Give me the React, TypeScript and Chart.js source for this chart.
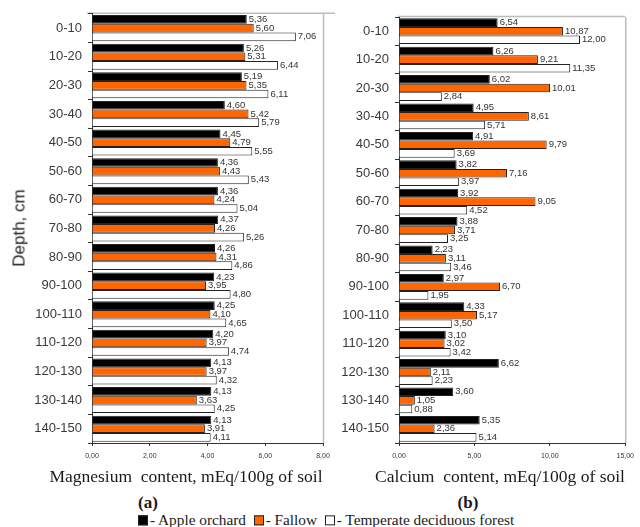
import React, { useEffect, useRef } from 'react';
import { Chart, registerables } from 'chart.js';

Chart.register(...registerables);

// Soil depth layers, cm
const depthLabels = [
  '0-10', '10-20', '20-30', '30-40', '40-50', '50-60', '60-70', '70-80',
  '80-90', '90-100', '100-110', '110-120', '120-130', '130-140', '140-150',
];

const seriesNames = ['Apple orchard', 'Fallow', 'Temperate deciduous forest'];

// Exchangeable magnesium, mEq/100g of soil
const mgApple = [5.36, 5.26, 5.19, 4.60, 4.45, 4.36, 4.36, 4.37, 4.26, 4.23, 4.25, 4.20, 4.13, 4.13, 4.13];
const mgFallow = [5.60, 5.31, 5.35, 5.42, 4.79, 4.43, 4.24, 4.26, 4.31, 3.95, 4.10, 3.97, 3.97, 3.63, 3.91];
const mgForest = [7.06, 6.44, 6.11, 5.79, 5.55, 5.43, 5.04, 5.26, 4.86, 4.80, 4.65, 4.74, 4.32, 4.25, 4.11];

// Exchangeable calcium, mEq/100g of soil
const caApple = [6.54, 6.26, 6.02, 4.95, 4.91, 3.82, 3.92, 3.88, 2.23, 2.97, 4.33, 3.10, 6.62, 3.60, 5.35];
const caFallow = [10.87, 9.21, 10.01, 8.61, 9.79, 7.16, 9.05, 3.71, 3.11, 6.70, 5.17, 3.02, 2.11, 1.05, 2.36];
const caForest = [12.00, 11.35, 2.84, 5.71, 3.69, 3.97, 4.52, 3.25, 3.46, 1.95, 3.50, 3.42, 2.23, 0.88, 5.14];

const mgAxisMax = 8;
const mgAxisStep = 2;
const caAxisMax = 15;
const caAxisStep = 5;

const fillColors = ['#000000', '#ff6600', '#ffffff'];
const edgeColor = '#222222';
const sans = '"Liberation Sans", Arial, sans-serif';
const serif = '"Liberation Serif", "DejaVu Serif", serif';

const fmt = (v: number) => v.toFixed(2).replace('.', ',');

// Light frame along the top and right edges of the plot area
const framePlugin = {
  id: 'plotFrame',
  beforeDraw(chart: any, _args: any, opts: any) {
    const { ctx, chartArea } = chart;
    const { left, right, top, bottom } = chartArea;
    ctx.save();
    ctx.strokeStyle = '#bdbdbd';
    ctx.lineWidth = 1.5;
    ctx.beginPath();
    ctx.moveTo(left - (opts.extendLeft || 0), top - 0.5);
    ctx.lineTo(right + (opts.extendRight || 0), top - 0.5);
    ctx.moveTo(right + 0.5, top);
    ctx.lineTo(right + 0.5, bottom);
    ctx.stroke();
    ctx.restore();
  },
};

// Value printed just past the end of every bar
const valueLabelPlugin = {
  id: 'valueLabels',
  afterDatasetsDraw(chart: any) {
    const { ctx } = chart;
    ctx.save();
    ctx.font = `9.5px ${sans}`;
    ctx.fillStyle = '#333333';
    ctx.textAlign = 'left';
    ctx.textBaseline = 'middle';
    chart.data.datasets.forEach((ds: any, di: number) => {
      const meta = chart.getDatasetMeta(di);
      meta.data.forEach((el: any, i: number) => {
        ctx.fillText(fmt(ds.data[i]), el.x + 2, el.y);
      });
    });
    ctx.restore();
  },
};

type PanelProps = {
  values: number[][];
  xMax: number;
  step: number;
  left: number;
  width: number;
  height: number;
  axisWidth: number;
  padTop: number;
  padRight: number;
  extendLeft: number;
  extendRight: number;
};

function BarPanel(p: PanelProps) {
  const ref = useRef<HTMLCanvasElement | null>(null);

  useEffect(() => {
    if (!ref.current) return;
    const chart = new Chart(ref.current, {
      type: 'bar',
      data: {
        labels: depthLabels,
        datasets: p.values.map((vals, i) => ({
          label: seriesNames[i],
          data: vals,
          backgroundColor: fillColors[i],
          borderColor: edgeColor,
          borderWidth: 1,
          barPercentage: 1,
          categoryPercentage: 0.91,
        })),
      },
      options: {
        indexAxis: 'y',
        animation: false,
        responsive: false,
        maintainAspectRatio: false,
        layout: { padding: { top: p.padTop, right: p.padRight, left: 0, bottom: 2 } },
        plugins: {
          legend: { display: false },
          tooltip: { enabled: false },
          plotFrame: { extendLeft: p.extendLeft, extendRight: p.extendRight },
        } as any,
        scales: {
          y: {
            type: 'category',
            grid: {
              display: true,
              drawOnChartArea: false,
              drawTicks: true,
              tickLength: 4,
              color: '#333333',
              offset: true,
            },
            border: { display: true, color: '#333333', width: 1 },
            ticks: {
              color: '#3a3a3a',
              font: { family: sans, size: 13 },
              padding: 6,
              autoSkip: false,
            },
            afterFit: (s: any) => {
              s.width = p.axisWidth;
            },
          },
          x: {
            type: 'linear',
            min: 0,
            max: p.xMax,
            grid: {
              display: true,
              drawOnChartArea: false,
              drawTicks: true,
              tickLength: 3,
              color: '#333333',
            },
            border: { display: true, color: '#333333', width: 1 },
            ticks: {
              stepSize: p.step,
              color: '#333333',
              font: { family: sans, size: 7 },
              padding: 6,
              maxRotation: 0,
              callback: (v: any) => fmt(Number(v)),
            },
            afterFit: (s: any) => {
              s.height = 25;
            },
          },
        },
      } as any,
      plugins: [framePlugin, valueLabelPlugin],
    });
    return () => chart.destroy();
  }, []);

  return (
    <canvas
      ref={ref}
      width={p.width}
      height={p.height}
      style={{ position: 'absolute', left: p.left, top: 0, width: p.width, height: p.height }}
    />
  );
}

const swatch = (bg: string) => (
  <span
    style={{
      display: 'inline-block',
      width: 8,
      height: 8,
      background: bg,
      border: `1px solid ${edgeColor}`,
      marginRight: 2,
      verticalAlign: 'middle',
      position: 'relative',
      top: -1,
    }}
  />
);

export default function App() {
  const titleStyle: React.CSSProperties = {
    position: 'absolute',
    fontFamily: serif,
    fontSize: 17.5,
    color: '#1a1a1a',
    whiteSpace: 'pre',
    transform: 'translate(-50%, -50%)',
    lineHeight: 1,
  };
  return (
    <div
      style={{
        position: 'absolute',
        left: 0,
        top: 0,
        width: 640,
        height: 527,
        background: '#ffffff',
        overflow: 'hidden',
      }}
    >
      <BarPanel
        values={[mgApple, mgFallow, mgForest]}
        xMax={mgAxisMax}
        step={mgAxisStep}
        left={0}
        width={340}
        height={470}
        axisWidth={92}
        padTop={13}
        padRight={17}
        extendLeft={5}
        extendRight={12}
      />
      <BarPanel
        values={[caApple, caFallow, caForest]}
        xMax={caAxisMax}
        step={caAxisStep}
        left={330}
        width={310}
        height={470}
        axisWidth={69}
        padTop={17}
        padRight={12}
        extendLeft={1}
        extendRight={0}
      />
      <div
        style={{
          position: 'absolute',
          left: 19,
          top: 228,
          transform: 'translate(-50%, -50%) rotate(-90deg)',
          fontFamily: sans,
          fontSize: 17,
          color: '#222222',
          whiteSpace: 'nowrap',
          lineHeight: 1,
        }}
      >
        Depth, cm
      </div>
      <div style={{ ...titleStyle, left: 186, top: 477 }}>{'Magnesium  content, mEq/100g of soil'}</div>
      <div style={{ ...titleStyle, left: 500, top: 477 }}>{'Calcium  content, mEq/100g of soil'}</div>
      <div style={{ ...titleStyle, left: 148, top: 502, fontWeight: 'bold', fontSize: 17 }}>(a)</div>
      <div style={{ ...titleStyle, left: 468, top: 502, fontWeight: 'bold', fontSize: 17 }}>(b)</div>
      <div
        style={{
          position: 'absolute',
          left: 138,
          top: 520,
          transform: 'translateY(-50%)',
          fontFamily: serif,
          fontSize: 15.3,
          color: '#1a1a1a',
          whiteSpace: 'pre',
          lineHeight: 1,
        }}
      >
        {swatch(fillColors[0])}
        {'- Apple orchard  '}
        {swatch(fillColors[1])}
        {'- Fallow  '}
        {swatch(fillColors[2])}
        {'- Temperate deciduous forest'}
      </div>
    </div>
  );
}
